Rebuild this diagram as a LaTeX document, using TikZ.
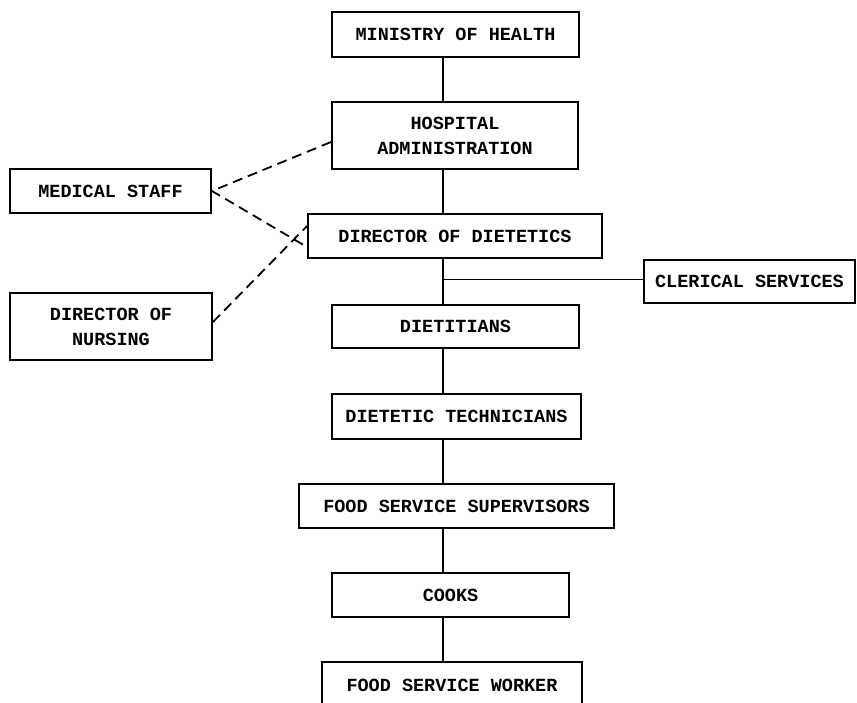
\documentclass[tikz,border=0pt]{standalone}
\usepackage{fontspec}
\setmonofont{Liberation Mono}
\begin{document}
\begin{tikzpicture}[x=1pt,y=-1pt,
  org/.style={draw, line width=2pt, inner sep=0pt, align=center,
    font=\ttfamily\bfseries\fontsize{18.5}{25}\selectfont},
  link/.style={line width=1.8pt},
  dotted link/.style={line width=1.8pt, dash pattern=on 10pt off 6pt}]
\useasboundingbox[fill=white] (0,0) rectangle (857,702);
\coordinate (spine) at (443,0);
% boxes: centre, width, height
\node[org, minimum width=247pt, minimum height=45pt] (mh) at (455.5,34.5) {MINISTRY OF HEALTH};
\node[org, minimum width=246pt, minimum height=67pt] (ha) at (455,135.5) {HOSPITAL\\ADMINISTRATION};
\node[org, minimum width=294pt, minimum height=44pt] (dd) at (455,236) {DIRECTOR OF DIETETICS};
\node[org, minimum width=201pt, minimum height=44pt] (ms) at (110.5,191) {MEDICAL STAFF};
\node[org, minimum width=202pt, minimum height=67pt] (dn) at (111,326.5) {DIRECTOR OF\\NURSING};
\node[org, minimum width=211pt, minimum height=43pt] (cs) at (749.5,281.5) {CLERICAL SERVICES};
\node[org, minimum width=247pt, minimum height=43pt] (dt) at (455.5,326.5) {DIETITIANS};
\node[org, minimum width=249pt, minimum height=45pt] (tech) at (456.5,416.5) {DIETETIC TECHNICIANS};
\node[org, minimum width=315pt, minimum height=44pt] (fss) at (456.5,506) {FOOD SERVICE SUPERVISORS};
\node[org, minimum width=237pt, minimum height=44pt] (cook) at (450.5,595) {COOKS};
\node[org, minimum width=260pt, minimum height=46pt] (fsw) at (452,685) {FOOD SERVICE WORKER};
% solid hierarchy
\draw[link] (mh.south -| spine) -- (ha.north -| spine);
\draw[link] (ha.south -| spine) -- (dd.north -| spine);
\draw[link] (dd.south -| spine) -- (dt.north -| spine);
\draw[link] ([yshift=2pt]cs.west) -- ([yshift=2pt]cs.west -| spine);
\draw[link] (dt.south -| spine) -- (tech.north -| spine);
\draw[link] (tech.south -| spine) -- (fss.north -| spine);
\draw[link] (fss.south -| spine) -- (cook.north -| spine);
\draw[link] (cook.south -| spine) -- (fsw.north -| spine);
% dashed advisory links
\draw[dotted link] ([yshift=-6.5pt]ha.west) -- (ms.east) -- ([yshift=-11pt]dd.west);
\draw[dotted link] ([yshift=4.5pt]dn.east) -- ([yshift=10pt]dd.west);
\end{tikzpicture}
\end{document}
